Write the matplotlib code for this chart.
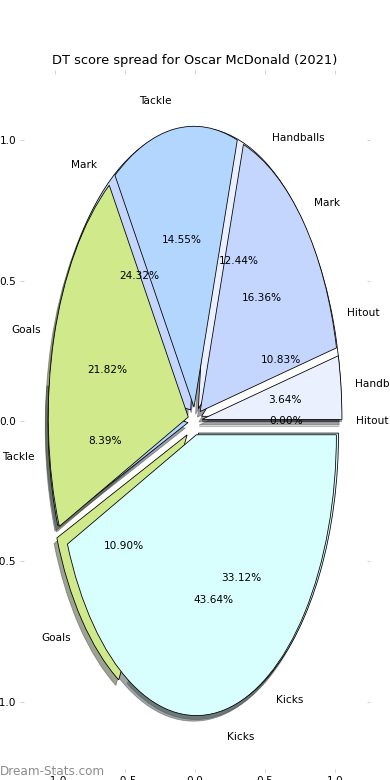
import matplotlib
matplotlib.use("agg")

import matplotlib.pyplot as plt


LABELS = ["Kicks", "Goals", "Tackle", "Mark", "Handballs", "Hitout"]
# two score splits drawn on top of each other
PCT_BACK = [33.12, 10.90, 8.39, 24.32, 12.44, 10.83]
PCT_FRONT = [43.64, 21.82, 14.55, 16.36, 3.64, 0.00]
COLORS = ["#d8fefe", "#cfe98b", "#b3d6fe", "#c4d6fe", "#eaf0fe", "#ffffff"]
TITLE = "DT score spread for Oscar McDonald (2021)"
TICKS = [-1.0, -0.5, 0.0, 0.5, 1.0]


def draw_pie(ax, values, explode):
    ax.pie(values, labels=LABELS, colors=COLORS, autopct="%.2f%%",
           startangle=0, counterclock=False, shadow=True, frame=True,
           explode=explode,
           wedgeprops={"edgecolor": "black", "linewidth": 0.8},
           textprops={"fontsize": 10.5})


def main():
    fig = plt.figure(figsize=(390 / 72, 780 / 72), dpi=72)
    ax = fig.add_axes([20 / 390, 8 / 780, 350 / 390, 702 / 780])

    draw_pie(ax, PCT_BACK, [0.05, 0.075, 0.05, 0.05, 0.05, 0.05])
    draw_pie(ax, PCT_FRONT, [0.05] * 6)

    ax.set_aspect("auto")
    ax.set_xlim(-1.25, 1.25)
    ax.set_ylim(-1.25, 1.25)
    ax.set_xticks(TICKS)
    ax.set_yticks(TICKS)
    ax.tick_params(direction="in", length=3.5, color="#c8c8c8",
                   top=True, right=True, labelsize=10.5)
    for sp in ax.spines.values():
        sp.set_visible(False)
    ax.set_title(TITLE, fontsize=13)

    fig.text(0.0, 0.003, "Dream-Stats.com", fontsize=12, color="#8c8c8c",
             ha="left", va="bottom")
    fig.savefig("out.png", dpi=72)


if __name__ == "__main__":
    main()
